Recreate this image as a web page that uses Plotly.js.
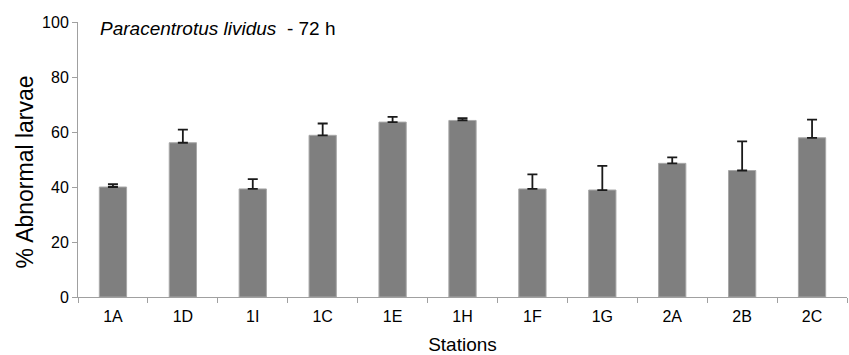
<!DOCTYPE html>
<html>
<head>
<meta charset="utf-8">
<script src="https://cdn.plot.ly/plotly-3.0.1.min.js"></script>
<style>html,body{margin:0;padding:0;background:#fff;}#chart{width:849px;height:355px;}</style>
</head>
<body>
<div id="chart"></div>
<script>
var stations = ["1A", "1D", "1I", "1C", "1E", "1H", "1F", "1G", "2A", "2B", "2C"];
var abnormal = [40.0, 56.1, 39.3, 58.8, 63.6, 64.2, 39.3, 38.9, 48.6, 46.0, 57.9];
var errorPlus = [1.0, 4.8, 3.6, 4.3, 1.9, 0.8, 5.3, 8.8, 2.2, 10.6, 6.6];
var yTicks = [0, 20, 40, 60, 80, 100];

var fontFam = "'Liberation Sans', Arial, sans-serif";

var trace = {
  type: "bar",
  x: stations,
  y: abnormal,
  marker: {color: "#7f7f7f", line: {color: "#a8a8a8", width: 1}},
  error_y: {type: "data", array: errorPlus, symmetric: false, arrayminus: stations.map(function(){return 0;}), color: "#1a1a1a", thickness: 1.8, width: 5},
  hoverinfo: "skip"
};

var layout = {
  width: 849, height: 355,
  margin: {l: 78, r: 2, t: 22, b: 58},
  paper_bgcolor: "#fff", plot_bgcolor: "#fff",
  bargap: 0.61,
  showlegend: false,
  font: {family: fontFam, color: "#000", size: 16},
  xaxis: {
    type: "category",
    showline: true, linecolor: "#a0a0a0", linewidth: 1,
    ticks: "outside", tickson: "boundaries", ticklen: 5, tickcolor: "#a0a0a0",
    showgrid: false, zeroline: false,
    tickfont: {size: 16, family: fontFam, color: "#000"},
    ticklabelstandoff: 5,
    title: {text: "Stations", font: {size: 19, family: fontFam, color: "#000"}, standoff: 18},
    automargin: false
  },
  yaxis: {
    range: [0, 100], tickvals: yTicks, ticktext: yTicks.map(String),
    showline: true, linecolor: "#a0a0a0", linewidth: 1,
    ticks: "outside", ticklen: 5, tickcolor: "#a0a0a0",
    showgrid: false, zeroline: false,
    tickfont: {size: 16, family: fontFam, color: "#000"},
    automargin: false
  },
  annotations: [{
    xref: "paper", yref: "paper", x: 0.026, y: 0.975, xanchor: "left", yanchor: "middle",
    text: "<i>Paracentrotus lividus</i>  - 72 h", showarrow: false,
    font: {size: 19, family: fontFam, color: "#000"}
  }, {
    xref: "paper", yref: "paper", x: -0.0695, y: 0.455, xanchor: "center", yanchor: "middle",
    text: "% Abnormal larvae", textangle: -90, showarrow: false,
    font: {size: 23, family: fontFam, color: "#000"}
  }]
};

Plotly.newPlot("chart", [trace], layout, {displayModeBar: false, staticPlot: true});
</script>
</body>
</html>
